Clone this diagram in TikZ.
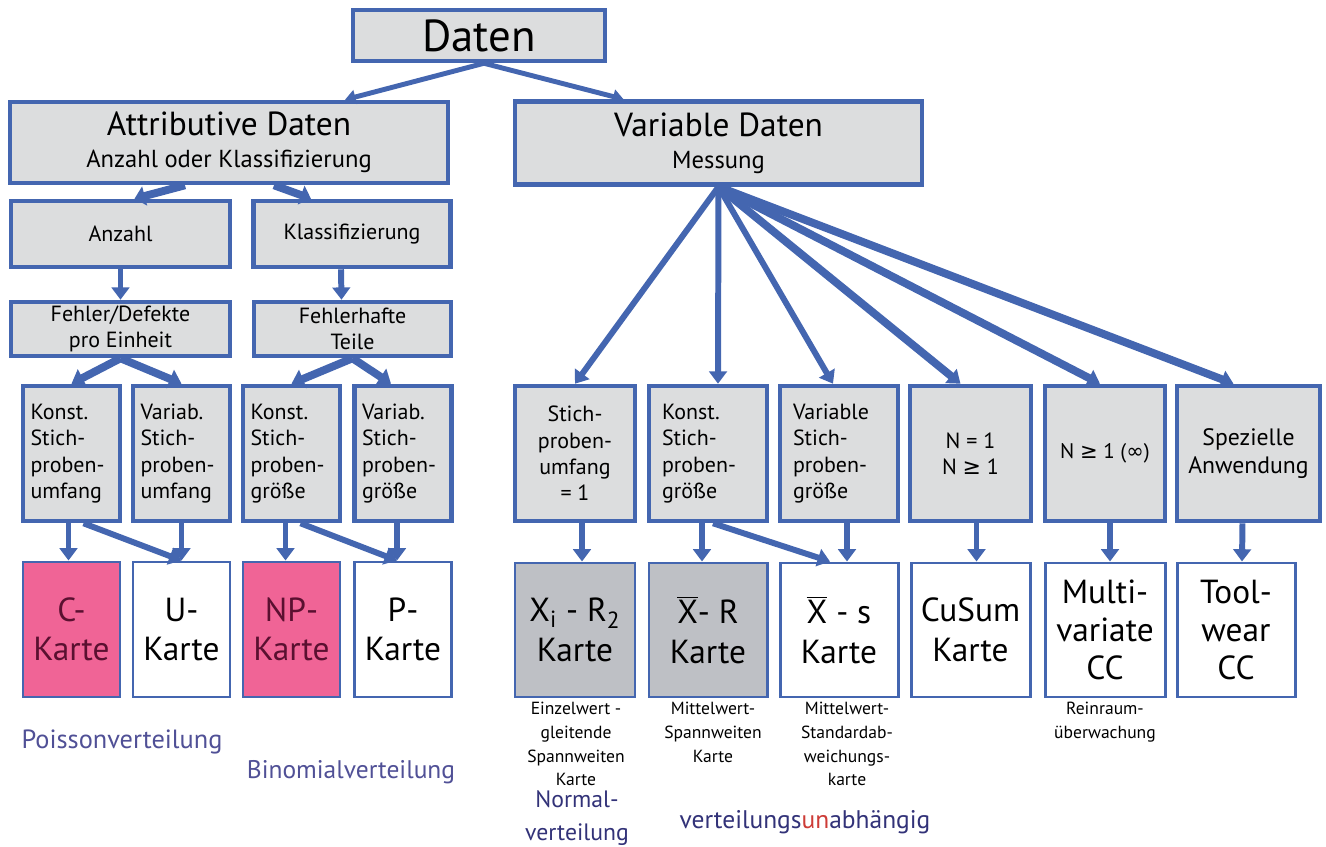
\documentclass[tikz,border=0pt]{standalone}
\usepackage{fontspec}
\setmainfont{PT Sans}
\newfontfamily\symfont{DejaVu Sans}
\usetikzlibrary{arrows.meta,calc}
\newcommand{\pxu}{0.02cm}
\definecolor{lineblue}{RGB}{68,102,176}
\definecolor{boxgrey}{RGB}{220,221,222}
\definecolor{darkgrey}{RGB}{190,192,197}
\definecolor{chartpink}{RGB}{240,100,150}
\definecolor{pinktext}{RGB}{90,16,48}
\definecolor{distblue}{RGB}{80,80,150}
\definecolor{normblue}{RGB}{50,50,120}
\definecolor{unred}{RGB}{205,60,55}
\begin{document}
\begin{tikzpicture}[x=\pxu,y=-\pxu,
        box/.style={draw=lineblue,line width=2.6pt,fill=boxgrey,inner sep=0pt,align=center},
        chart/.style={draw=lineblue,line width=1.7pt,fill=white,inner sep=0pt,align=center,
            font=\fontsize{19}{22.5}\selectfont},
        dims/.style 2 args={minimum width=#1*\pxu,minimum height=#2*\pxu},
        arr/.style={draw=lineblue,line width=3.4pt,-{Triangle[length=7pt,width=10pt]}},
        fatarr/.style={arr,line width=4.5pt},
        note/.style={inner sep=0pt,align=center,font=\fontsize{10}{13.5}\selectfont}]
        \useasboundingbox (0,0) rectangle (1326,847);
        % top
        \node[box,dims={252}{51},font=\fontsize{25.5}{28}\selectfont] (daten) at (479,35.5) {Daten};
        \node[box,dims={438}{81}] (attr) at (229,142.5)
            {{\fontsize{19}{22}\selectfont Attributive Daten}\\[6pt]{\fontsize{14}{16}\selectfont Anzahl oder Klassifizierung}};
        \node[box,dims={407}{83}] (var) at (718.5,143)
            {{\fontsize{19}{22}\selectfont Variable Daten}\\[6pt]{\fontsize{14}{16}\selectfont Messung}};
        \draw[arr,line width=2.8pt,-{Triangle[length=6pt,width=8pt]}] ($(daten.south)+(5,0)$) -- ($(attr.north)+(116,0)$);
        \draw[arr,line width=2.8pt,-{Triangle[length=6pt,width=8pt]}] ($(daten.south)+(5,0)$) -- ($(var.north)+(-95,0)$);
        % attributive side
        \node[box,dims={219}{66},font=\fontsize{12.5}{14}\selectfont] (anz) at (120.5,234) {Anzahl};
        \node[box,dims={197}{66},font=\fontsize{12.5}{14}\selectfont] (kla) at (352,234) {Klassifizierung};
        \node[box,dims={219}{54},font=\fontsize{12.5}{15}\selectfont] (fehl) at (120.5,329) {Fehler/Defekte\\pro Einheit};
        \node[box,dims={197}{54},font=\fontsize{12.5}{15}\selectfont] (ftei) at (352.5,329) {Fehlerhafte\\Teile};
        \draw[fatarr,-{Triangle[length=6pt,width=11pt]}] ($(attr.south)+(-44,0)$) -- ($(anz.north)+(14,0)$);
        \draw[fatarr,-{Triangle[length=6pt,width=11pt]}] ($(attr.south)+(45,0)$) -- ($(kla.north)+(-41,0)$);
        \draw[arr] (anz.south) -- (fehl.north);
        \draw[arr] ($(kla.south)+(-11,0)$) -- ($(ftei.north)+(-11,0)$);
        \foreach \n/\x/\t in {k1/71.5/{Konst.\\Stich-\\proben-\\umfang},v1/181.5/{Variab.\\Stich-\\proben-\\umfang},
                k2/291.5/{Konst.\\Stich-\\proben-\\größe},v2/403/{Variab.\\Stich-\\proben-\\größe}}
            \node[box,dims={97}{135},text width=82*\pxu,align=left,font=\fontsize{12.5}{15}\selectfont] (\n) at (\x,453.5) {\t};
        \node[chart,dims={97}{135},fill=chartpink,text=pinktext] (c) at (71.5,629.5) {C-\\Karte};
        \node[chart,dims={97}{135}] (u) at (181.5,629.5) {U-\\Karte};
        \node[chart,dims={97}{135},fill=chartpink,text=pinktext] (np) at (291.5,629.5) {NP-\\Karte};
        \node[chart,dims={97}{135}] (p) at (403,629.5) {P-\\Karte};
        \draw[fatarr,-{Triangle[length=7pt,width=11pt]}] (fehl.south) -- (k1.north);
        \draw[fatarr,-{Triangle[length=7pt,width=11pt]}] (fehl.south) -- (v1.north);
        \draw[fatarr,-{Triangle[length=7pt,width=11pt]}] (ftei.south) -- (k2.north);
        \draw[fatarr,-{Triangle[length=7pt,width=11pt]}] (ftei.south) -- ($(v2.north)+(-12,0)$);
        \draw[arr] ($(k1.south)+(-3,0)$) -- ($(c.north)+(-3,0)$);
        \draw[arr] ($(k1.south)+(12,0)$) -- (u.north);
        \draw[arr] (v1.south) -- (u.north);
        \draw[arr] ($(k2.south)+(-6,0)$) -- ($(np.north)+(-6,0)$);
        \draw[arr] ($(k2.south)+(9,0)$) -- ($(p.north)+(-6,0)$);
        \draw[arr] ($(v2.south)+(-6,0)$) -- ($(p.north)+(-6,0)$);
        % variable side
        \node[box,dims={120}{135},font=\fontsize{12.5}{15}\selectfont] (s1) at (575,453.5) {Stich-\\proben-\\umfang\\= 1};
        \node[box,dims={118}{135},text width=92*\pxu,align=left,font=\fontsize{12.5}{15}\selectfont] (s2) at (708,453.5) {Konst.\\Stich-\\proben-\\größe};
        \node[box,dims={118}{135},text width=92*\pxu,align=left,font=\fontsize{12.5}{15}\selectfont] (s3) at (839,453.5) {Variable\\Stich-\\proben-\\größe};
        \node[box,dims={121}{135},font=\fontsize{12.5}{15}\selectfont] (s4) at (970.5,453.5) {N = 1\\N {\symfont≥} 1};
        \node[box,dims={120}{135},font=\fontsize{12}{15}\selectfont] (s5) at (1105,453.5) {N {\symfont≥} 1 ({\symfont∞})};
        \node[box,dims={143}{135},font=\fontsize{13.5}{15.5}\selectfont] (s6) at (1248.5,453.5) {Spezielle\\Anwendung};
        \draw[arr] (var.south) -- (s1.north);
        \draw[arr] (var.south) -- ($(s2.north)+(10,0)$);
        \draw[arr] (var.south) -- ($(s3.north)+(-6,0)$);
        \draw[fatarr] (var.south) -- ($(s4.north)+(-10,0)$);
        \draw[fatarr] (var.south) -- ($(s5.north)+(-5,0)$);
        \draw[fatarr] (var.south) -- ($(s6.north)+(-15,0)$);
        \node[chart,dims={120}{134},fill=darkgrey] (xir) at (575,630) {X\textsubscript{i} - R\textsubscript{2}\\Karte};
        \node[chart,dims={118}{134},fill=darkgrey] (xr) at (708,630) {$\overline{\mbox{X}}$- R\\Karte};
        \node[chart,dims={118}{134}] (xs) at (839,630) {$\overline{\mbox{X}}$ - s\\Karte};
        \node[chart,dims={119}{134}] (cusum) at (970.5,630) {CuSum\\Karte};
        \node[chart,dims={120}{134},font=\fontsize{19}{21.5}\selectfont] (multi) at (1105,630) {Multi-\\variate\\CC};
        \node[chart,dims={118}{134},font=\fontsize{19}{21.5}\selectfont] (tool) at (1236,630) {Tool-\\wear\\CC};
        \draw[arr] ($(s1.south)+(7,0)$) -- ($(xir.north)+(7,0)$);
        \draw[arr] ($(s2.south)+(-6,0)$) -- ($(xr.north)+(-6,0)$);
        \draw[arr] ($(s2.south)+(5,0)$) -- ($(xs.north)+(-9,0)$);
        \draw[arr] ($(s3.south)+(8,0)$) -- ($(xs.north)+(8,0)$);
        \draw[arr] ($(s4.south)+(6,0)$) -- ($(cusum.north)+(6,0)$);
        \draw[arr] ($(s5.south)+(5,0)$) -- ($(multi.north)+(5,0)$);
        \draw[arr] ($(s6.south)+(-6,0)$) -- ($(tool.north)+(6,0)$);
        % notes
        \node[inner sep=0pt,text=distblue,font=\fontsize{15}{18}\selectfont] (poisson) at (122,742) {Poissonverteilung};
        \node[inner sep=0pt,text=distblue,font=\fontsize{14.5}{18}\selectfont] (binom) at (351,772) {Binomialverteilung};
        \node[note,anchor=north] (nxir) at (576,702) {Einzelwert -\\gleitende\\Spannweiten\\Karte};
        \node[note,anchor=north] (nxr) at (713,702) {Mittelwert-\\Spannweiten\\Karte};
        \node[note,anchor=north] (nxs) at (847,702) {Mittelwert-\\Standardab-\\weichungs-\\karte};
        \node[note,anchor=north] (nmulti) at (1105,702) {Reinraum-\\überwachung};
        \node[inner sep=0pt,align=center,text=normblue,font=\fontsize{13.5}{19}\selectfont] (normal) at (577,818) {Normal-\\verteilung};
        \node[inner sep=0pt,text=normblue,font=\fontsize{14.5}{17}\selectfont] (unab) at (805,822)
            {verteilungs\textcolor{unred}{un}abhängig};
    \end{tikzpicture}
\end{document}
